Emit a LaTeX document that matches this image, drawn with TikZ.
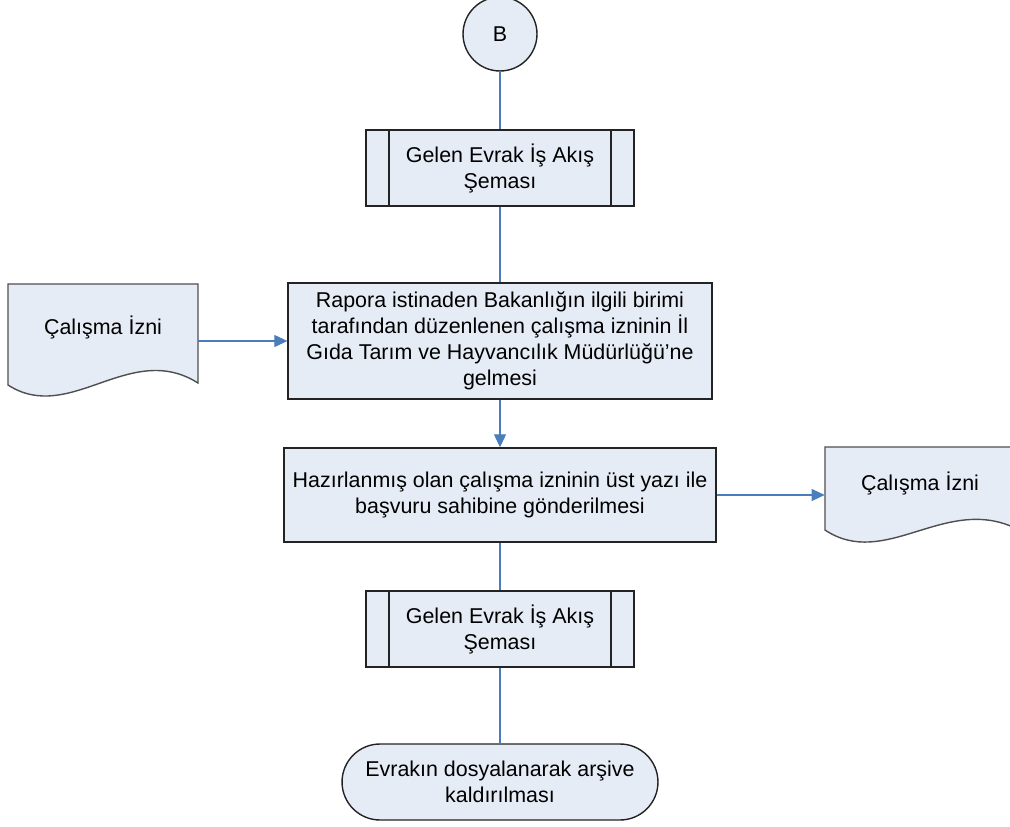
\documentclass[tikz,border=0pt]{standalone}
\usepackage{fontspec}
\setmainfont{Liberation Sans}
\usepackage{tikz}
\usetikzlibrary{arrows.meta}

\definecolor{boxfill}{RGB}{230,236,246}
\definecolor{flowblue}{RGB}{74,126,187}
\definecolor{edge}{RGB}{35,35,35}

\begin{document}
\begin{tikzpicture}[x=0.02cm,y=-0.02cm,
            every node/.style={font=\fontsize{12.2pt}{14.8pt}\selectfont, align=center},
            proc/.style={shape=rectangle, draw=edge, line width=0.8pt, fill=boxfill, inner sep=0pt},
            subproc/.style={proc, minimum width=5.36cm, minimum height=1.52cm,
                path picture={\draw[edge, line width=0.8pt]
                    ([xshift=0.46cm]path picture bounding box.north west) -- ([xshift=0.46cm]path picture bounding box.south west)
                    ([xshift=-0.46cm]path picture bounding box.north east) -- ([xshift=-0.46cm]path picture bounding box.south east);}},
            docshape/.style={draw=edge!80, line width=0.8pt, fill=boxfill},
            doctext/.style={shape=rectangle, minimum width=3.8cm, inner sep=0pt},
            line/.style={draw=flowblue, line width=0.6pt},
            arr/.style={line, -{Triangle[length=2.6mm,width=2.4mm]}}]
        \useasboundingbox (0,0) rectangle (1010,827);

        % document shapes
        \draw[docshape] (8,284) -- (198,284) -- (198,383) .. controls (130,340) and (70,425) .. (8,385) -- cycle;
        \draw[docshape] (825,447) -- (1015,447) -- (1015,528) .. controls (945,495) and (885,570) .. (825,530) -- cycle;

        \node[shape=circle, draw=edge, line width=0.8pt, fill=boxfill, minimum size=1.48cm, inner sep=0pt] (B) at (500,34) {B};
        \node[subproc] (gelen1) at (500,168) {Gelen Evrak İş Akış\\Şeması};
        \node[proc, minimum width=8.48cm, minimum height=2.32cm] (rapor) at (500,341)
            {Rapora istinaden Bakanlığın ilgili birimi\\tarafından düzenlenen çalışma izninin İl\\Gıda Tarım ve Hayvancılık Müdürlüğü’ne\\gelmesi};
        \node[doctext] (izinL) at (103,327) {Çalışma İzni};
        \node[proc, minimum width=8.64cm, minimum height=1.88cm] (gonder) at (500,495)
            {Hazırlanmış olan çalışma izninin üst yazı ile\\başvuru sahibine gönderilmesi};
        \node[doctext] (izinR) at (920,483) {Çalışma İzni};
        \node[subproc] (gelen2) at (500,629) {Gelen Evrak İş Akış\\Şeması};
        \node[proc, rounded corners=0.76cm, minimum width=6.32cm, minimum height=1.52cm] (arsiv) at (500,782)
            {Evrakın dosyalanarak arşive\\kaldırılması};

        \draw[line] (B) -- (gelen1);
        \draw[line] (gelen1) -- (rapor);
        \draw[arr] (izinL.east |- rapor.west) -- (rapor.west);
        \draw[arr] (rapor) -- (gonder);
        \draw[arr] (gonder.east) -- (gonder.east -| izinR.west);
        \draw[line] (gonder) -- (gelen2);
        \draw[line] (gelen2) -- (arsiv);
    \end{tikzpicture}
\end{document}
